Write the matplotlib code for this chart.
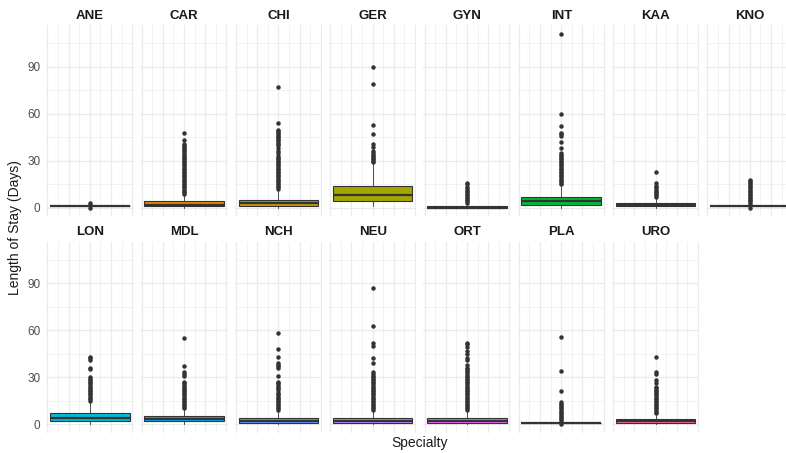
import matplotlib
matplotlib.use("Agg")
import matplotlib.pyplot as plt

plt.rcParams['font.family'] = ['Liberation Sans', 'DejaVu Sans']

specialties = ['ANE', 'CAR', 'CHI', 'GER', 'GYN', 'INT', 'KAA', 'KNO',
               'LON', 'MDL', 'NCH', 'NEU', 'ORT', 'PLA', 'URO']
q1 = [1, 1, 1, 4, 0, 2, 1, 1, 2, 2, 1, 1, 1, 1, 1]
median = [1, 2, 3, 8, 0, 4, 2, 1, 4, 3, 2, 2, 2, 1, 2]
q3 = [1, 4, 5, 14, 1, 7, 3, 1, 7, 5, 4, 4, 4, 1, 3]
whisker_low = [1, 0, 0, 1, 0, 0, 0, 1, 0, 0, 0, 0, 0, 1, 0]
whisker_high = [1, 8, 11, 28, 2, 14, 6, 1, 14, 9, 8, 8, 8, 1, 6]

outliers = [
    [0, 2, 3],
    [9, 10, 11, 12, 13, 14, 15, 16, 17, 18, 19, 20, 21, 22, 23, 24, 25, 26, 27, 28, 29, 30,
     31, 32, 33, 34, 35, 36, 37, 38, 39, 40, 41, 43, 48],
    [12, 13, 14, 15, 16, 17, 18, 19, 20, 21, 22, 23, 24, 25, 26, 27, 28, 29, 30, 31, 32, 33,
     35, 36, 38, 40, 41, 42, 43, 44, 45, 46, 47, 48, 49, 50, 54, 77],
    [29, 30, 31, 32, 33, 34, 35, 36, 39, 41, 47, 53, 79, 90],
    [3, 4, 5, 6, 7, 8, 9, 10, 11, 12, 13, 15, 16],
    [15, 16, 17, 18, 19, 20, 21, 22, 23, 24, 25, 26, 27, 28, 29, 30, 31, 32, 33, 34, 35,
     38, 42, 46, 47, 48, 52, 60, 111],
    [7, 8, 9, 10, 11, 12, 13, 14, 16, 23],
    [0, 2, 3, 4, 5, 6, 7, 8, 9, 10, 11, 12, 13, 14, 15, 16, 17, 18],
    [15, 16, 17, 18, 19, 20, 21, 22, 23, 24, 25, 26, 27, 28, 29, 30, 35, 36, 41, 42, 43],
    [10, 11, 12, 13, 14, 15, 16, 17, 18, 19, 20, 21, 22, 23, 24, 25, 26, 27, 31, 32, 33, 37, 55],
    [9, 10, 11, 12, 13, 14, 15, 16, 17, 18, 19, 20, 22, 23, 24, 25, 26, 27, 31, 36, 37, 38,
     39, 43, 48, 58],
    [9, 10, 11, 12, 13, 14, 15, 16, 17, 18, 19, 20, 21, 22, 23, 24, 25, 26, 27, 28, 29, 30,
     31, 32, 33, 39, 42, 50, 52, 63, 87],
    [9, 10, 11, 12, 13, 14, 15, 16, 17, 18, 19, 20, 21, 22, 23, 24, 25, 26, 27, 28, 29, 30,
     31, 32, 33, 34, 35, 36, 38, 41, 42, 45, 47, 49, 51, 52],
    [0, 2, 3, 4, 5, 6, 7, 8, 9, 10, 11, 12, 13, 14, 21, 34, 56],
    [7, 8, 9, 10, 11, 12, 13, 14, 15, 16, 17, 18, 19, 20, 21, 22, 23, 24, 26, 28, 32, 33, 43],
]

fill_colors = ['#F8766D', '#E58700', '#C99800', '#A3A500', '#6BB100', '#00BA38', '#00BF7D',
               '#00C0AF', '#00BCD8', '#00B0F6', '#619CFF', '#B983FF', '#E76BF3', '#FD61D1',
               '#FF67A4']

y_breaks = [0, 30, 60, 90]
y_minor = [15, 45, 75, 105]
x_major = [-0.4, -0.2, 0.0, 0.2, 0.4]
x_minor = [-0.3, -0.1, 0.1, 0.3]

W, H = 786, 453
fig = plt.figure(figsize=(W / 100, H / 100), dpi=100)

ncol = 8
pitch = 94.3
pw = 87.5
row_top = [25.4, 241.8]
ph = 191.0
strip_y = [16, 232]
grid_col = '#EBEBEB'
line_col = '#333333'

for i, sp in enumerate(specialties):
    r, c = divmod(i, ncol)
    left = 46 + pitch * c
    top = row_top[r]
    ax = fig.add_axes([left / W, 1 - (top + ph) / H, pw / W, ph / H])
    ax.set_xlim(-0.4125, 0.4125)
    ax.set_ylim(-5.55, 116.55)
    for s in ax.spines.values():
        s.set_visible(False)
    for y in y_minor:
        ax.axhline(y, color=grid_col, lw=0.45, zorder=0)
    for y in y_breaks:
        ax.axhline(y, color=grid_col, lw=0.9, zorder=0)
    for x in x_minor:
        ax.axvline(x, color=grid_col, lw=0.45, zorder=0)
    for x in x_major:
        ax.axvline(x, color=grid_col, lw=0.9, zorder=0)
    stats = [dict(med=median[i], q1=q1[i], q3=q3[i], whislo=whisker_low[i],
                  whishi=whisker_high[i], fliers=outliers[i], label=sp)]
    ax.bxp(stats, positions=[0], widths=0.75, patch_artist=True, showcaps=False,
           boxprops=dict(facecolor=fill_colors[i], edgecolor=line_col, linewidth=0.8),
           medianprops=dict(color=line_col, linewidth=1.6),
           whiskerprops=dict(color=line_col, linewidth=0.6),
           flierprops=dict(marker='o', markerfacecolor=line_col, markeredgecolor=line_col,
                           markersize=2.2, linestyle='none'),
           zorder=2)
    ax.set_xticks([])
    ax.tick_params(axis='y', length=0, pad=4, labelsize=8.5, labelcolor='#4D4D4D')
    ax.set_yticks(y_breaks)
    if c != 0:
        ax.set_yticklabels([])
    fig.text((left + pw / 2) / W, 1 - strip_y[r] / H, sp, ha='center', va='center',
             fontsize=9.5, fontweight='bold', color='#1A1A1A')

fig.text(15 / W, 1 - 228 / H, 'Length of Stay (Days)', rotation=90, ha='center',
         va='center', fontsize=10, color='#1A1A1A')
fig.text(420 / W, 1 - 443 / H, 'Specialty', ha='center', va='center', fontsize=10,
         color='#1A1A1A')

fig.savefig('out.png', dpi=100, facecolor='white')
